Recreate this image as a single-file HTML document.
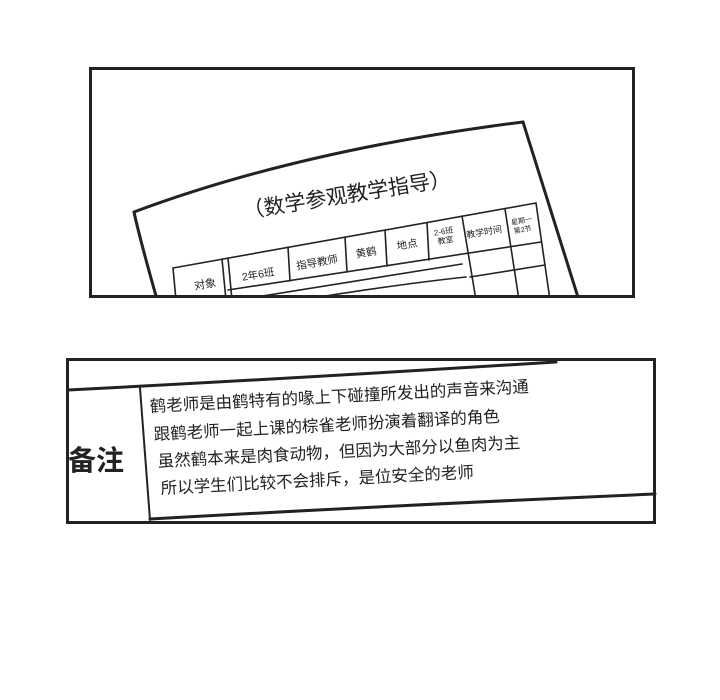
<!DOCTYPE html>
<html><head><meta charset="utf-8"><style>
html,body{margin:0;padding:0;background:#fff;width:720px;height:700px;overflow:hidden}
svg{display:block}
text{font-family:"Liberation Sans","Noto Sans CJK SC",sans-serif;fill:#222}
</style></head><body>
<svg width="720" height="700" viewBox="0 0 720 700">
<defs><clipPath id="c1"><rect x="91" y="69" width="542" height="226"/></clipPath></defs>
<g clip-path="url(#c1)" stroke="#222" fill="none" stroke-linecap="round">
  <path d="M134,212 Q300,150 523,122 L582,310" stroke-width="3"/>
  <path d="M134,212 Q140,240 160,310" stroke-width="3"/>
  <text x="347" y="202" font-size="21" text-anchor="middle" stroke="none" transform="rotate(-9 347 196)">（数学参观教学指导）</text>
  <g stroke-width="1.6">
    <path d="M173,268 L536,203 L550,300"/>
    <path d="M173,268 L176,300"/>
    <path d="M222,259 L226,300 M228,258 L232,300"/>
    <path d="M228,290 L541,242"/>
    <path d="M288,247 L290,281 M345,237 L347,272 M385,230 L387,266 M427,223 L429,260"/>
    <path d="M462,216 L476,300 M505,209 L519,300"/>
    <path d="M470,277 L545,265"/>
    <path d="M250,298 Q350,282 462,264 M300,300 Q400,284 466,277"/>
  </g>
  <g stroke="none" text-anchor="middle">
    <text x="205" y="288" font-size="11" transform="rotate(-10 205 284)">对象</text>
    <text x="258" y="278" font-size="10.5" transform="rotate(-10 258 274)">2年6班</text>
    <text x="317" y="266" font-size="10.5" transform="rotate(-10 317 262)">指导教师</text>
    <text x="366" y="256" font-size="10.5" transform="rotate(-10 366 252)">黄鹤</text>
    <text x="407" y="248" font-size="10.5" transform="rotate(-10 407 244)">地点</text>
    <text x="444" y="234" font-size="8" transform="rotate(-10 444 234)">2-6班</text>
    <text x="446" y="243" font-size="8" transform="rotate(-10 446 243)">教室</text>
    <text x="484" y="235" font-size="9" transform="rotate(-10 484 231)">教学时间</text>
    <text x="522" y="223" font-size="7" transform="rotate(-10 522 223)">星期一</text>
    <text x="523" y="232" font-size="7" transform="rotate(-10 523 232)">第2节</text>
  </g>
</g>
<rect x="90.5" y="68.5" width="543" height="228" fill="none" stroke="#222" stroke-width="3"/>

<g stroke="#222" fill="none" stroke-linecap="round">
  <path d="M68,390 Q300,378 556,362" stroke-width="3"/>
  <path d="M140,388 L150,520" stroke-width="2"/>
  <path d="M150,519 Q400,505 655,494" stroke-width="3"/>
</g>
<text x="68" y="470" font-size="28" font-weight="bold">备注</text>
<g font-size="16.5">
  <text x="150" y="412" transform="rotate(-3 150 412)">鹤老师是由鹤特有的喙上下碰撞所发出的声音来沟通</text>
  <text x="154" y="440" transform="rotate(-3 154 440)">跟鹤老师一起上课的棕雀老师扮演着翻译的角色</text>
  <text x="158" y="467" transform="rotate(-3 158 467)">虽然鹤本来是肉食动物，但因为大部分以鱼肉为主</text>
  <text x="161" y="494" transform="rotate(-3 161 494)">所以学生们比较不会排斥，是位安全的老师</text>
</g>
<rect x="67.5" y="359.5" width="587" height="163" fill="none" stroke="#222" stroke-width="3"/>
</svg>
</body></html>
